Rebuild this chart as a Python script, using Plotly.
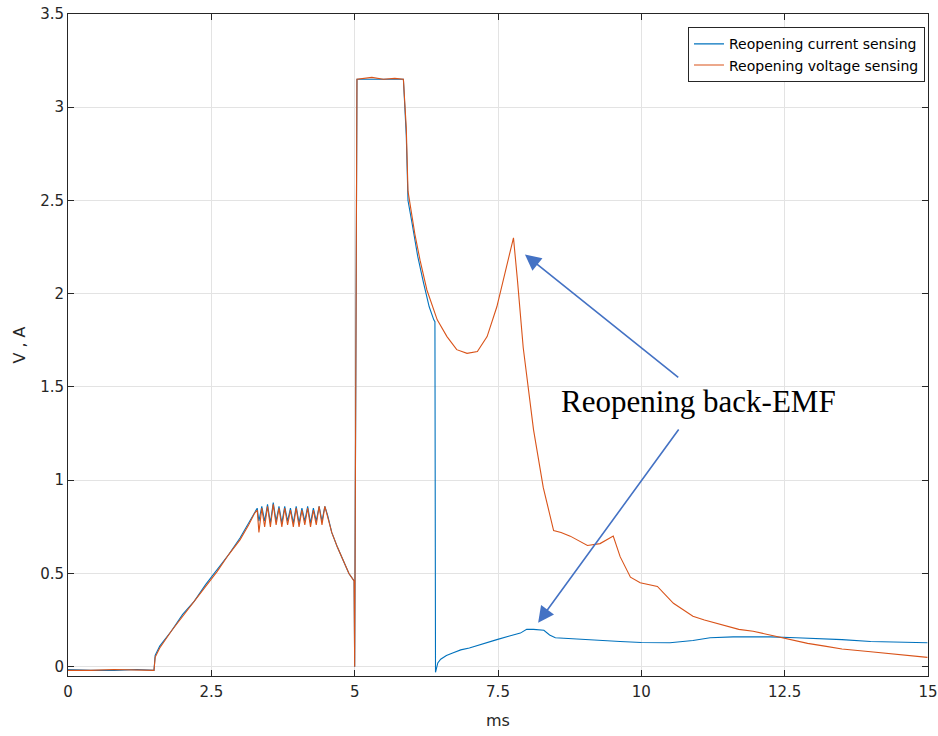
import plotly.graph_objects as go

# Time base (ms) and measured traces (V for voltage sensing, A for current sensing)
t_voltage = [
    0.0, 0.4, 0.8, 1.2, 1.5, 1.52, 1.6, 1.8, 2.0, 2.2, 2.4, 2.6, 2.8, 3.0, 3.15, 3.25, 3.3,
    3.33, 3.38, 3.43, 3.48, 3.53, 3.58, 3.63, 3.68, 3.73, 3.78, 3.83, 3.88, 3.93, 3.98,
    4.03, 4.08, 4.13, 4.18, 4.23, 4.28, 4.33, 4.38, 4.43, 4.48, 4.53, 4.6, 4.7, 4.8, 4.9,
    4.99, 5.0, 5.04, 5.3, 5.5, 5.7, 5.85, 5.9, 5.93, 5.98, 6.05, 6.14, 6.26, 6.44, 6.61,
    6.78, 6.96, 7.14, 7.31, 7.48, 7.62, 7.77, 7.84, 7.94, 8.12, 8.29, 8.47, 8.6, 8.76,
    9.06, 9.28, 9.51, 9.63, 9.81, 9.98, 10.15, 10.28, 10.56, 10.9, 11.1, 11.38, 11.7,
    11.95, 12.4, 12.9, 13.2, 13.5, 14.0, 14.5, 14.99,
]
v_voltage = [
    -0.02, -0.02, -0.015, -0.02, -0.02, 0.05, 0.10, 0.19, 0.27, 0.35, 0.43, 0.51, 0.60, 0.68, 0.76, 0.82, 0.84,
    0.72, 0.85, 0.75, 0.86, 0.75, 0.87, 0.76, 0.85, 0.75, 0.85, 0.76, 0.84, 0.75, 0.85,
    0.75, 0.84, 0.76, 0.85, 0.75, 0.84, 0.76, 0.86, 0.76, 0.86, 0.80, 0.72, 0.64, 0.57, 0.50,
    0.46, 0.0, 3.15, 3.16, 3.15, 3.155, 3.15, 2.89, 2.55, 2.45, 2.32, 2.18, 2.02, 1.86, 1.77,
    1.70, 1.68, 1.69, 1.77, 1.93, 2.11, 2.30, 2.07, 1.71, 1.27, 0.96, 0.73, 0.72, 0.70,
    0.65, 0.66, 0.70, 0.59, 0.48, 0.45, 0.44, 0.43, 0.34, 0.27, 0.25, 0.225, 0.20,
    0.19, 0.16, 0.125, 0.11, 0.095, 0.08, 0.065, 0.05,
]

t_current = [
    0.0, 0.4, 0.8, 1.2, 1.5, 1.52, 1.6, 1.8, 2.0, 2.2, 2.4, 2.6, 2.8, 3.0, 3.15, 3.25, 3.3,
    3.33, 3.38, 3.43, 3.48, 3.53, 3.58, 3.63, 3.68, 3.73, 3.78, 3.83, 3.88, 3.93, 3.98,
    4.03, 4.08, 4.13, 4.18, 4.23, 4.28, 4.33, 4.38, 4.43, 4.48, 4.53, 4.6, 4.7, 4.8, 4.9,
    4.99, 5.0, 5.04, 5.3, 5.5, 5.7, 5.85, 5.9, 5.93, 6.0, 6.1, 6.2, 6.3, 6.38, 6.40,
    6.41, 6.45, 6.5, 6.6, 6.72, 6.85, 7.0, 7.2, 7.48, 7.7, 7.89, 8.0, 8.12, 8.3, 8.4,
    8.5, 8.76, 9.0, 9.3, 9.63, 10.0, 10.5, 10.9, 11.2, 11.6, 12.25, 12.7, 13.12, 13.5,
    14.0, 14.5, 14.99,
]
v_current = [
    -0.015, -0.02, -0.02, -0.015, -0.02, 0.06, 0.11, 0.19, 0.28, 0.35, 0.44, 0.52, 0.60, 0.69, 0.77, 0.83, 0.85,
    0.78, 0.86, 0.78, 0.87, 0.77, 0.88, 0.78, 0.86, 0.77, 0.86, 0.78, 0.85, 0.77, 0.86,
    0.77, 0.85, 0.78, 0.86, 0.77, 0.85, 0.78, 0.86, 0.78, 0.86, 0.81, 0.72, 0.64, 0.57, 0.50,
    0.46, 0.0, 3.15, 3.15, 3.15, 3.15, 3.15, 2.85, 2.50, 2.38, 2.20, 2.06, 1.93, 1.86, 1.85,
    -0.03, 0.02, 0.04, 0.06, 0.075, 0.09, 0.10, 0.12, 0.145, 0.165, 0.18, 0.20, 0.20, 0.195, 0.17,
    0.155, 0.15, 0.145, 0.14, 0.135, 0.13, 0.128, 0.14, 0.155, 0.16, 0.16, 0.155, 0.15, 0.145,
    0.135, 0.13, 0.128,
]

x_ticks = [0, 2.5, 5, 7.5, 10, 12.5, 15]
y_ticks = [0, 0.5, 1, 1.5, 2, 2.5, 3, 3.5]

BLUE = "#0072BD"
ORANGE = "#D95319"
ARROW = "#4472C4"
AXIS = "#262626"

fig = go.Figure()
fig.add_trace(go.Scatter(x=t_current, y=v_current, mode="lines",
                         name="Reopening current sensing",
                         line=dict(color=BLUE, width=1.1)))
fig.add_trace(go.Scatter(x=t_voltage, y=v_voltage, mode="lines",
                         name="Reopening voltage sensing",
                         line=dict(color=ORANGE, width=1.1)))

# Label with two arrows pointing at the back-EMF bumps
label_x, label_y = 10.99, 1.42
fig.add_annotation(x=label_x, y=label_y, text="Reopening back-EMF", showarrow=False,
                   font=dict(family="Liberation Serif", size=31, color="black"))
arrow_specs = [
    dict(x=7.97, y=2.21, ax=10.67, ay=1.545),
    dict(x=8.20, y=0.236, ax=10.67, ay=1.28),
]
for a in arrow_specs:
    fig.add_annotation(x=a["x"], y=a["y"], ax=a["ax"], ay=a["ay"],
                       xref="x", yref="y", axref="x", ayref="y", text="",
                       showarrow=True, arrowhead=2, arrowsize=2.0, arrowwidth=1.6,
                       arrowcolor=ARROW, standoff=0, startstandoff=0)

axis_common = dict(
    showline=True, linecolor=AXIS, linewidth=1, mirror="ticks",
    ticks="inside", ticklen=6, tickcolor=AXIS, automargin=False,
    showgrid=True, gridcolor="#e3e3e3", gridwidth=1, zeroline=False,
    tickfont=dict(family="DejaVu Sans", size=15, color=AXIS),
)

fig.update_layout(
    width=938, height=736,
    margin=dict(l=68, r=10, t=14, b=60),
    paper_bgcolor="white", plot_bgcolor="white",
    showlegend=True,
    legend=dict(x=0.9965, y=0.98, xanchor="right", yanchor="top",
                bgcolor="white", bordercolor="#262626", borderwidth=1,
                font=dict(family="DejaVu Sans", size=14, color="black"),
                tracegroupgap=0, itemwidth=30),
    xaxis=dict(range=[0, 15], tickvals=x_ticks, ticktext=[str(v) for v in x_ticks],
               title=dict(text="ms", font=dict(family="DejaVu Sans", size=16, color=AXIS), standoff=14),
               ticklabelstandoff=2, **axis_common),
    yaxis=dict(range=[-0.05, 3.5], tickvals=y_ticks, ticktext=[str(v) for v in y_ticks],
               title=dict(text="V , A", font=dict(family="DejaVu Sans", size=16, color=AXIS), standoff=10),
               **axis_common),
)

fig.write_html("out.html")
